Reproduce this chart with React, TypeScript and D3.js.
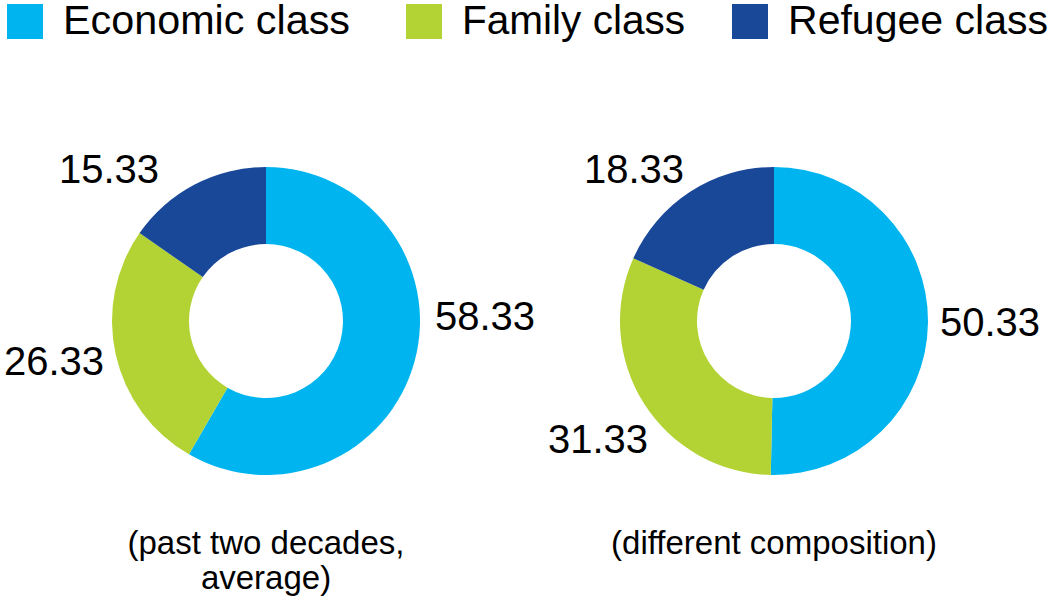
import React, { useEffect, useRef } from 'react';
import * as d3 from 'd3';

const width = 1052;
const height = 606;

// data
const categories = ['Economic class', 'Family class', 'Refugee class'];
const colors = ['#00b5ef', '#b3d335', '#1a4899'];
const pastValues = [58.33, 26.33, 15.33];
const newValues = [50.33, 31.33, 18.33];
const captions = [['(past two decades,', 'average)'], ['(different composition)']];

// layout (not data)
const centers = [
  { x: 266, y: 321 },
  { x: 774, y: 321 },
];
const outerR = 154;
const innerR = 77;
// label offsets from donut centre (text centre, baseline), one per slice
const labelOffsets = [
  [
    { dx: 219, dy: 9 },
    { dx: -212, dy: 54 },
    { dx: -157, dy: -138 },
  ],
  [
    { dx: 216, dy: 15 },
    { dx: -176, dy: 132 },
    { dx: -140, dy: -138 },
  ],
];
const legendX = [63, 462, 788];
const legendW = [287, 223, 260];
const font = "'Liberation Sans', Arial, Helvetica, sans-serif";

const App: React.FC = () => {
  const ref = useRef<HTMLDivElement>(null);

  useEffect(() => {
    if (!ref.current) return;
    const container = ref.current;

    const svg = d3
      .select(container)
      .append('svg')
      .attr('width', width)
      .attr('height', height)
      .style('display', 'block')
      .style('font-family', font);

    svg.append('rect').attr('width', width).attr('height', height).attr('fill', '#fff');

    const color = d3.scaleOrdinal<string, string>().domain(categories).range(colors);

    // legend
    const legend = svg
      .selectAll('g.legend')
      .data(categories)
      .enter()
      .append('g')
      .attr('class', 'legend');

    legend
      .append('rect')
      .attr('x', (d, i) => legendX[i] - 56)
      .attr('y', 4)
      .attr('width', 36)
      .attr('height', 35)
      .attr('fill', d => color(d));

    legend
      .append('text')
      .attr('x', (d, i) => legendX[i])
      .attr('y', 34)
      .attr('font-size', 40)
      .attr('textLength', (d, i) => legendW[i])
      .attr('lengthAdjust', 'spacingAndGlyphs')
      .attr('fill', '#000')
      .text(d => d);

    const pie = d3
      .pie<number>()
      .sort(null)
      .value(d => d);

    const arc = d3
      .arc<d3.PieArcDatum<number>>()
      .innerRadius(innerR)
      .outerRadius(outerR);

    [pastValues, newValues].forEach((values, k) => {
      const c = centers[k];
      const g = svg.append('g').attr('transform', `translate(${c.x},${c.y})`);

      g.selectAll('path')
        .data(pie(values))
        .enter()
        .append('path')
        .attr('d', arc)
        .attr('fill', (d, i) => color(categories[i]));

      g.selectAll('text.val')
        .data(values)
        .enter()
        .append('text')
        .attr('class', 'val')
        .attr('x', (d, i) => labelOffsets[k][i].dx)
        .attr('y', (d, i) => labelOffsets[k][i].dy)
        .attr('text-anchor', 'middle')
        .attr('font-size', 40)
        .attr('fill', '#000')
        .text(d => d.toFixed(2));

      g.selectAll('text.cap')
        .data(captions[k])
        .enter()
        .append('text')
        .attr('class', 'cap')
        .attr('x', 0)
        .attr('y', (d, i) => 233 + i * 35)
        .attr('text-anchor', 'middle')
        .attr('font-size', 33)
        .attr('fill', '#000')
        .text(d => d);
    });

    return () => {
      svg.remove();
    };
  }, []);

  return (
    <div
      ref={ref}
      style={{
        position: 'absolute',
        top: 0,
        left: 0,
        width: `${width}px`,
        height: `${height}px`,
      }}
    />
  );
};

export default App;
